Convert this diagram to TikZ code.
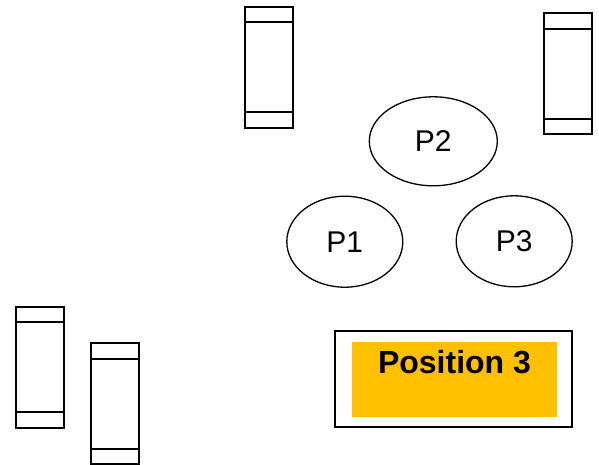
\documentclass[tikz,border=0pt]{standalone}
\usepackage{fontspec}
\setmainfont{Liberation Sans}
\usetikzlibrary{shapes.geometric}
\definecolor{gold}{HTML}{FFC000}
\tikzset{
  boxline/.style={draw=black, line width=2pt},
  bin/.pic={
    \draw[boxline] (0,0) rectangle (48,121);
    \draw[boxline] (0,15.5) -- (48,15.5);
    \draw[boxline] (0,105.5) -- (48,105.5);
  },
  pers/.style={ellipse, draw=black, line width=1.3pt, inner sep=0pt,
    font=\fontsize{30}{36}\selectfont},
}
\begin{document}
\begin{tikzpicture}[x=1pt,y=-1pt]
\useasboundingbox (0,0) rectangle (599,464);
% bins
\pic at (245,6.5) {bin};
\pic at (544,13.3) {bin};
\pic at (16,306.7) {bin};
\pic at (91,343) {bin};
% persons
\node[pers, minimum width=128pt, minimum height=89pt] (p2) at (433.3,141.3) {P2};
\node[pers, minimum width=116pt, minimum height=91pt] (p1) at (344.8,241.7) {P1};
\node[pers, minimum width=116pt, minimum height=91pt] (p3) at (514.2,241.3) {P3};
% position box
\node[draw=black, line width=2pt, minimum width=237pt, minimum height=96pt, inner sep=0pt] (outer) at (453.8,379) {};
\node[fill=gold, minimum width=205pt, minimum height=74.7pt, inner sep=0pt] (inner) at (454.5,379.3) {};
\node[anchor=base, inner sep=0pt, font=\fontsize{32}{38}\selectfont\bfseries] (lbl) at (454.5,373) {Position 3};
\end{tikzpicture}
\end{document}
